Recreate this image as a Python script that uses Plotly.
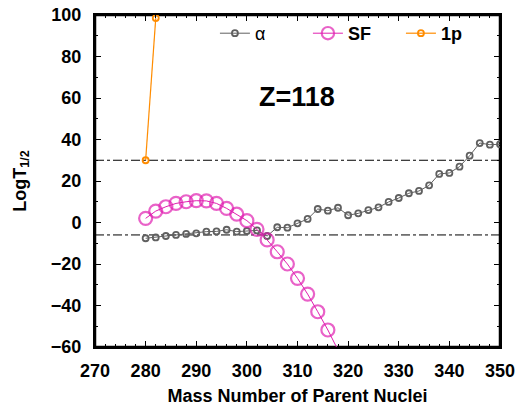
import plotly.graph_objects as go

# ---- data ----
alpha_A = list(range(280, 352, 2))
alpha_T = [-7.6, -7.2, -6.5, -6.0, -5.5, -5.2, -4.4, -4.3, -3.5, -4.4, -4.1, -3.8,
           -6.5, -2.3, -2.5, -0.4, 1.7, 6.5, 5.7, 7.1, 3.5, 4.4, 6.0, 7.3, 9.9,
           11.8, 14.1, 15.2, 17.9, 23.4, 23.9, 26.9, 32.2, 38.3, 37.5, 37.7]

sf_A = list(range(280, 320, 2))
sf_T = [2.0, 5.5, 7.6, 9.2, 10.0, 10.5, 10.4, 9.2, 6.8, 4.0, 0.9, -3.3, -8.4,
        -14.1, -20.0, -26.9, -34.5, -43.0, -51.8, -61.5]

p_A = [280, 282]
p_T = [30.0, 98.5]

ref_lines = [30, -6]
x_range = [270, 350]
y_range = [-60, 100]
x_ticks = list(range(270, 351, 10))
y_ticks = list(range(-60, 101, 20))

GREY = "#606060"
MAG = "#e020b0"
ORA = "#ff8c00"
FONT = "Liberation Sans, Arial"

fig = go.Figure()

# frame of the plotting box, built from the axis ranges
fig.add_trace(go.Scatter(
    x=[x_range[0], x_range[1], x_range[1], x_range[0], x_range[0]],
    y=[y_range[0], y_range[0], y_range[1], y_range[1], y_range[0]],
    mode="lines", line=dict(color="black", width=2.5), cliponaxis=False,
    showlegend=False, hoverinfo="skip"))

fig.add_trace(go.Scatter(x=alpha_A, y=alpha_T, name="α", mode="lines+markers",
                         line=dict(color=GREY, width=1),
                         marker=dict(symbol="circle-open", size=6, color=GREY,
                                     line=dict(width=1.8, color=GREY))))
fig.add_trace(go.Scatter(x=sf_A, y=sf_T, name="<b>SF</b>", mode="lines+markers",
                         line=dict(color=MAG, width=1),
                         marker=dict(symbol="circle-open",
                                     size=[13] * (len(sf_A) - 1) + [0], color=MAG,
                                     line=dict(width=2.2, color=MAG))))
fig.add_trace(go.Scatter(x=p_A, y=p_T, name="<b>1p</b>", mode="lines+markers",
                         line=dict(color=ORA, width=1.2),
                         marker=dict(symbol="circle-open", size=6, color=ORA,
                                     line=dict(width=1.8, color=ORA))))

for yv in ref_lines:
    fig.add_shape(type="line", xref="paper", x0=0, x1=1, yref="y", y0=yv, y1=yv,
                  line=dict(color="black", width=1, dash="dashdot"), layer="below")

fig.add_annotation(x=309.9, y=60.5, text="<b>Z=118</b>", showarrow=False,
                   font=dict(size=27, color="black", family=FONT))

tick_common = dict(showgrid=False, zeroline=False, showline=True, linecolor="#000000",
                   linewidth=2, ticks="inside", ticklen=6, mirror="allticks",
                   tickwidth=1, tickcolor="#000000", automargin=False,
                   tickfont=dict(size=18, color="black", weight="bold", family=FONT))

fig.update_layout(
    template="none",
    xaxis=dict(range=x_range, tickvals=x_ticks, ticklabelstandoff=6,
               minor=dict(dtick=2, ticks="inside", ticklen=3, tickcolor="#000000"),
               title=dict(text="<b>Mass Number of Parent Nuclei</b>",
                          font=dict(size=18, color="black", family=FONT), standoff=10),
               **tick_common),
    yaxis=dict(range=y_range, tickvals=y_ticks, ticklabelstandoff=8,
               minor=dict(dtick=10, ticks="inside", ticklen=3, tickcolor="#000000"),
               title=dict(text="<b>LogT<sub>1/2</sub></b>",
                          font=dict(size=18, color="black", family=FONT), standoff=20),
               **tick_common),
)

fig.update_layout(width=519, height=406,
                  margin=dict(l=95, r=19, t=15, b=59),
                  paper_bgcolor="white", plot_bgcolor="white",
                  legend=dict(orientation="h", x=0.985, xanchor="right", y=1.0, yanchor="top",
                              bgcolor="rgba(0,0,0,0)", entrywidth=48, entrywidthmode="pixels",
                              font=dict(size=18, color="black", family=FONT),
                              tracegroupgap=0),
                  showlegend=True)

fig.write_html("out.html", config={"displayModeBar": False})

with open("out.html", encoding="utf-8") as f:
    html = f.read()
html = html.replace("<body>", '<body style="margin:0;overflow:hidden">', 1)
with open("out.html", "w", encoding="utf-8") as f:
    f.write(html)
